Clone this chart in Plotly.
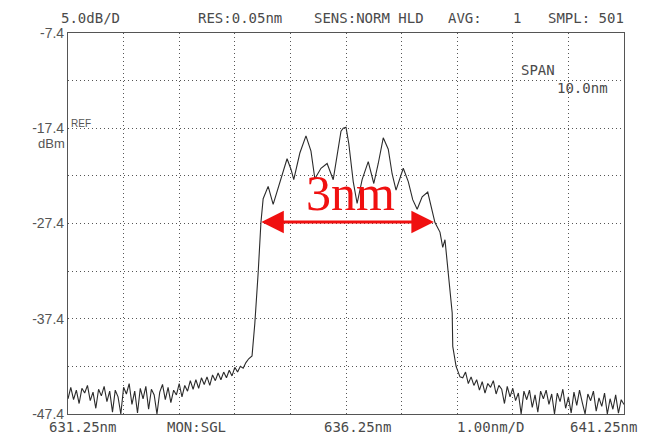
import plotly.graph_objects as go

# ---------------- data ----------------
# left noise floor
wl_left = [631.25, 631.30, 631.35, 631.40, 631.45, 631.50, 631.55, 631.60, 631.65, 631.70,
           631.75, 631.80, 631.85, 631.90, 631.95, 632.00, 632.05, 632.10, 632.15, 632.20,
           632.25, 632.30, 632.35, 632.40, 632.45, 632.50, 632.55, 632.60, 632.65, 632.70,
           632.75, 632.80, 632.85, 632.90, 632.95, 633.00, 633.05, 633.10, 633.15, 633.20,
           633.25, 633.30, 633.35, 633.40, 633.45, 633.50, 633.55, 633.60, 633.65, 633.70,
           633.75, 633.80, 633.85, 633.90, 633.95, 634.00, 634.05, 634.10, 634.15, 634.20,
           634.25, 634.30, 634.35, 634.40, 634.45, 634.50]
pw_left = [-45.8, -44.6, -45.9, -44.9, -46.3, -44.7, -45.2, -44.4, -46.0, -45.1,
           -46.8, -44.8, -45.5, -44.5, -46.1, -45.0, -47.2, -44.9, -45.6, -47.4,
           -44.6, -45.3, -44.2, -46.4, -45.0, -47.3, -44.7, -45.8, -44.5, -46.9,
           -44.8, -45.4, -47.4, -45.1, -44.3, -45.9, -44.6, -46.2, -44.9, -45.4,
           -44.2, -45.6, -44.4, -45.0, -43.9, -44.8, -43.8, -44.7, -43.6, -44.3,
           -43.5, -44.4, -43.3, -43.9, -43.1, -43.8, -43.0, -43.6, -42.8, -43.4,
           -42.5, -43.0, -42.4, -42.6, -42.0, -41.6]

# spectrum body
wl_body = [634.56, 634.61, 634.67, 634.72, 634.76, 634.85, 634.94, 635.01, 635.10, 635.19,
           635.26, 635.31, 635.42, 635.53, 635.62, 635.69, 635.80, 635.91, 636.02, 636.11,
           636.16, 636.20, 636.25, 636.30, 636.38, 636.45, 636.54, 636.65, 636.75, 636.83,
           636.92, 637.01, 637.08, 637.15, 637.22, 637.28, 637.37, 637.45, 637.53, 637.62,
           637.72, 637.85, 637.94, 637.99, 638.03, 638.08, 638.16, 638.17, 638.23, 638.30]
pw_body = [-41.3, -37.9, -32.6, -27.3, -24.8, -23.5, -25.4, -24.1, -22.3, -20.6,
           -21.7, -22.8, -20.0, -18.2, -19.8, -22.7, -21.6, -21.1, -22.8, -19.6,
           -17.7, -17.4, -17.3, -19.0, -23.0, -25.3, -22.8, -20.9, -23.2, -21.1,
           -18.4, -19.6, -22.2, -23.9, -22.6, -21.6, -23.0, -24.9, -25.9, -24.6,
           -24.1, -27.3, -28.3, -29.9, -29.1, -32.2, -36.8, -40.3, -42.4, -43.5]

# right noise floor
wl_right = [638.35, 638.40, 638.45, 638.50, 638.55, 638.60, 638.65, 638.70, 638.75, 638.80,
            638.85, 638.90, 638.95, 639.00, 639.05, 639.10, 639.15, 639.20, 639.25, 639.30,
            639.35, 639.40, 639.45, 639.50, 639.55, 639.60, 639.65, 639.70, 639.75, 639.80,
            639.85, 639.90, 639.95, 640.00, 640.05, 640.10, 640.15, 640.20, 640.25, 640.30,
            640.35, 640.40, 640.45, 640.50, 640.55, 640.60, 640.65, 640.70, 640.75, 640.80,
            640.85, 640.90, 640.95, 641.00, 641.05, 641.10, 641.15, 641.20, 641.25]
pw_right = [-43.6, -43.0, -44.2, -43.5, -44.4, -43.8, -44.9, -44.0, -45.2, -44.2,
            -44.6, -43.9, -45.3, -44.4, -44.8, -46.3, -44.5, -45.6, -44.7, -46.0,
            -45.2, -47.4, -45.0, -45.9, -44.9, -46.7, -45.4, -47.2, -45.0, -45.8,
            -44.9, -46.4, -45.3, -47.4, -45.2, -46.1, -44.8, -46.8, -45.6, -47.3,
            -45.1, -46.5, -44.9, -46.2, -47.4, -45.3, -46.0, -45.0, -47.1, -45.7,
            -46.6, -45.2, -47.4, -45.8, -46.9, -45.4, -47.3, -45.9, -46.4]

x_range = [631.25, 641.25]
x_grid = [631.25, 632.25, 633.25, 634.25, 635.25, 636.25, 637.25, 638.25, 639.25, 640.25, 641.25]
y_range = [-47.4, -7.4]
y_grid = [-47.4, -42.4, -37.4, -32.4, -27.4, -22.4, -17.4, -12.4, -7.4]
y_labels = ["-47.4", "", "-37.4", "", "-27.4", "", "-17.4", "", "-7.4"]

header_texts = ["5.0dB/D", "RES:0.05nm", "SENS:NORM HLD", "AVG:", "1", "SMPL: 501"]
bottom_texts = ["631.25nm", "MON:SGL", "636.25nm", "1.00nm/D", "641.25nm"]

# 3 nm bandwidth marker
bw_start, bw_end, bw_level = 634.70, 637.83, -27.25
bw_label = "3nm"

# ---------------- figure ----------------
OFF = 8                      # page body margin of the browser
WIN_W, WIN_H = 666, 434
PL, PR, PT, PB = 68, 624, 33, 410   # plot area in window pixels
W, H = WIN_W - OFF, WIN_H - OFF
L, T = PL - OFF, PT - OFF
R, B = WIN_W - PR, WIN_H - PB - OFF
PW, PH = PR - PL, PB - PT


def px(xp):
    return (xp - PL) / PW


def py(yp):
    return (PB - yp) / PH


wl = wl_left + wl_body + wl_right
pw = pw_left + pw_body + pw_right

fig = go.Figure()
fig.add_trace(go.Scatter(x=wl, y=pw, mode="lines",
                         line=dict(color="#2b2b2b", width=1.1),
                         hoverinfo="skip", showlegend=False))

mono = "DejaVu Sans Mono, Liberation Mono, monospace"
sans = "Liberation Sans, Arial, sans-serif"
txt_col = "#4a4a4a"

ann = []
header_x = [90, 240, 369, 465, 517, 586]
for t, xp in zip(header_texts, header_x):
    ann.append(dict(text=t, x=px(xp), y=py(18), xref="paper", yref="paper",
                    xanchor="center", yanchor="middle", showarrow=False,
                    font=dict(family=mono, size=14, color=txt_col)))
bottom_x = [82, 196, 357, 490, 603]
for t, xp in zip(bottom_texts, bottom_x):
    ann.append(dict(text=t, x=px(xp), y=py(423), xref="paper", yref="paper",
                    xanchor="center", yanchor="middle", showarrow=False,
                    font=dict(family=mono, size=14, color=txt_col)))

ann.append(dict(text="SPAN", x=px(538), y=py(70), xref="paper", yref="paper",
                xanchor="center", yanchor="middle", showarrow=False,
                font=dict(family=mono, size=14, color=txt_col)))
ann.append(dict(text="10.0nm", x=px(582), y=py(87), xref="paper", yref="paper",
                xanchor="center", yanchor="middle", showarrow=False,
                font=dict(family=mono, size=14, color=txt_col)))
ann.append(dict(text="dBm", x=px(67), y=py(142), xref="paper", yref="paper",
                xanchor="right", yanchor="middle", showarrow=False,
                font=dict(family=sans, size=13, color="#555")))
ann.append(dict(text="REF", x=px(69), y=py(123), xref="paper", yref="paper",
                xanchor="left", yanchor="middle", showarrow=False,
                font=dict(family=sans, size=10, color="#555")))

# bandwidth arrow
ann.append(dict(text="", x=bw_end, y=bw_level, ax=bw_start, ay=bw_level,
                xref="x", yref="y", axref="x", ayref="y",
                showarrow=True, arrowside="end+start",
                arrowhead=2, startarrowhead=2, arrowsize=1.5, startarrowsize=1.5,
                arrowwidth=3, arrowcolor="#f01010", standoff=0, startstandoff=0))
ann.append(dict(text=bw_label, x=px(350), y=py(191), xref="paper", yref="paper",
                xanchor="center", yanchor="middle", showarrow=False,
                font=dict(family="Liberation Serif, Times New Roman, serif", size=50, color="#f01010")))

fig.update_layout(
    width=W, height=H,
    margin=dict(l=L, r=R, t=T, b=B),
    paper_bgcolor="white", plot_bgcolor="white",
    annotations=ann,
    xaxis=dict(range=x_range, tickvals=x_grid, showticklabels=False,
               showgrid=True, gridcolor="#555", gridwidth=1, griddash="1px,3px",
               zeroline=False, showline=True, linecolor="#555", linewidth=1.2, mirror=True,
               ticks=""),
    yaxis=dict(range=y_range, tickvals=y_grid, ticktext=y_labels,
               showgrid=True, gridcolor="#555", gridwidth=1, griddash="1px,3px",
               zeroline=False, showline=True, linecolor="#555", linewidth=1.2, mirror=True,
               ticks="", ticklabelstandoff=0, tickfont=dict(family=sans, size=14, color="#555")),
)

fig.write_html("out.html")
